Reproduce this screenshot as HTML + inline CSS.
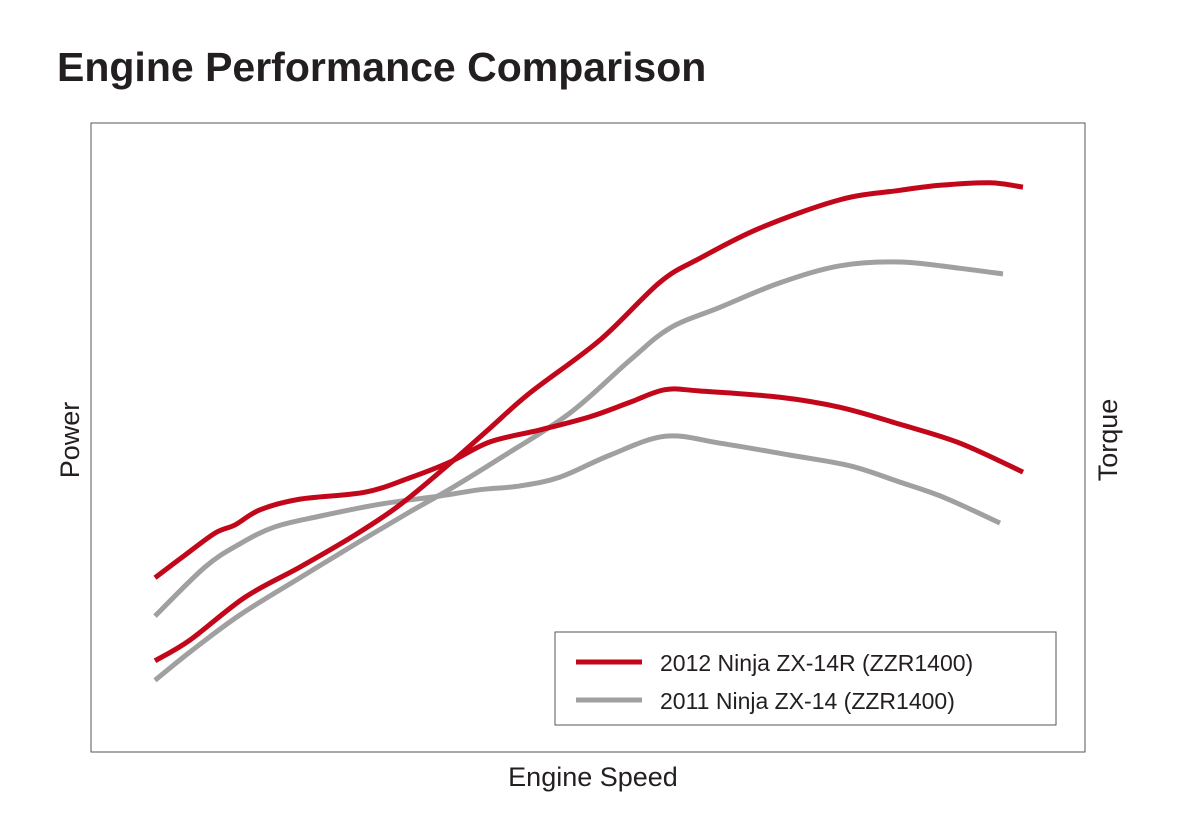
<!DOCTYPE html>
<html><head><meta charset="utf-8">
<style>
html,body{margin:0;padding:0;background:#fff;}
body{width:1181px;height:835px;overflow:hidden;font-family:"Liberation Sans",Arial,sans-serif;}
</style></head>
<body>
<svg id="chart" width="1181" height="835" xmlns="http://www.w3.org/2000/svg">
<text x="57" y="81" font-family="Liberation Sans, Arial, sans-serif" font-weight="bold" font-size="41" fill="#231f20">Engine Performance Comparison</text>
<rect x="91" y="123" width="994" height="629" fill="none" stroke="#555" stroke-width="1"/>
<text transform="translate(79,440) rotate(-90)" text-anchor="middle" font-size="27" fill="#231f20">Power</text>
<text transform="translate(1117,440) rotate(-90)" text-anchor="middle" font-size="27" fill="#231f20">Torque</text>
<text x="593" y="786" text-anchor="middle" font-size="27" fill="#231f20">Engine Speed</text>
<g id="series"></g>
<g>
<rect x="555" y="632" width="501" height="93" fill="#fff" stroke="#555" stroke-width="1"/>
<line x1="576" y1="662" x2="642" y2="662" stroke="#c3071b" stroke-width="5"/>
<text x="660" y="671" font-size="23" fill="#231f20">2012 Ninja ZX-14R (ZZR1400)</text>
<line x1="576" y1="700" x2="642" y2="700" stroke="#a0a0a0" stroke-width="5"/>
<text x="660" y="709" font-size="23" fill="#231f20">2011 Ninja ZX-14 (ZZR1400)</text>
</g>
</svg>
<script>
const redPowerRpm=[768,1188,1848,2508,3168,3708,4308,4788,5268,6108,6828,7308,8028,8988,9708,10188,10788,11184];
const redPowerPct=[14.5,17.8,24.6,29.4,34.5,39.3,45.9,51.5,57.1,65.5,74.7,78.5,83.3,87.8,89.3,90.1,90.5,89.8];
const redTorqueRpm=[768,1128,1488,1728,2028,2508,3288,3828,4308,4788,5388,5988,6468,6888,7308,8268,8988,9708,10428,11184];
const redTorquePct=[27.7,31.3,34.8,36.1,38.5,40.2,41.3,43.6,46.1,49.3,51.2,53.3,55.6,57.6,57.4,56.4,54.8,52.1,49.1,44.5];
const grayPowerRpm=[768,1188,1788,2508,3228,3828,4308,4908,5748,6468,6948,7548,8268,8988,9708,10428,10944];
const grayPowerPct=[11.4,15.9,21.8,27.7,33.5,38.2,41.8,46.7,53.9,62.3,67.4,70.7,74.6,77.3,77.9,76.9,76.0];
const grayTorqueRpm=[768,1368,1788,2208,2748,3468,4188,4668,5148,5628,6228,6888,7548,8388,9108,9708,10248,10908];
const grayTorquePct=[21.6,29.4,33.1,35.8,37.5,39.4,40.7,41.7,42.3,43.7,47.2,50.2,49.1,47.2,45.5,42.9,40.4,36.4];

const X0=91,W=994,Y0=752,H=629,XMAX=11928,YMAX=100;
function xScale(v){return X0+v*W/XMAX;}
function yScale(v){return Y0-v*H/YMAX;}
function pathFrom(xs,ys){
  const p=xs.map((x,i)=>[xScale(x),yScale(ys[i])]);
  let d="M"+p[0][0]+","+p[0][1];
  for(let i=0;i<p.length-1;i++){
    const a=p[i-1]||p[i],b=p[i],c=p[i+1],e=p[i+2]||c;
    const c1x=b[0]+(c[0]-a[0])/6,c1y=b[1]+(c[1]-a[1])/6;
    const c2x=c[0]-(e[0]-b[0])/6,c2y=c[1]-(e[1]-b[1])/6;
    d+=" C"+c1x+","+c1y+" "+c2x+","+c2y+" "+c[0]+","+c[1];
  }
  return d;
}
const g=document.getElementById('series');
function addLine(xs,ys,color,name){
  const el=document.createElementNS('http://www.w3.org/2000/svg','path');
  el.setAttribute('d',pathFrom(xs,ys));
  el.setAttribute('fill','none');
  el.setAttribute('stroke',color);
  el.setAttribute('stroke-width','5');
  el.setAttribute('stroke-linejoin','round');
  
  
  g.appendChild(el);
}
addLine(grayPowerRpm,grayPowerPct,'#a0a0a0','line-2011-power');
addLine(grayTorqueRpm,grayTorquePct,'#a0a0a0','line-2011-torque');
addLine(redPowerRpm,redPowerPct,'#c3071b','line-2012-power');
addLine(redTorqueRpm,redTorquePct,'#c3071b','line-2012-torque');
</script>
</body></html>
